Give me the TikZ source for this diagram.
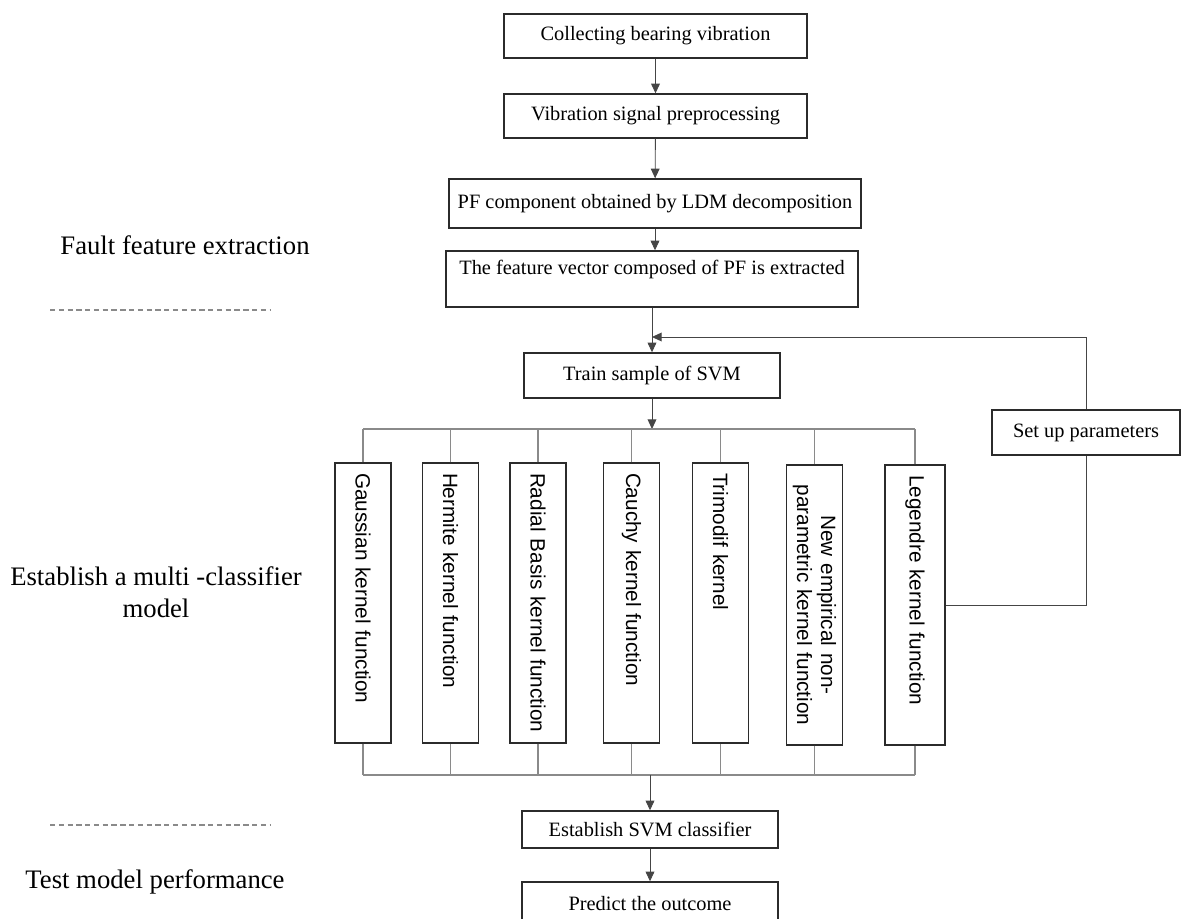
\documentclass[tikz,border=0pt]{standalone}
\usepackage{fontspec}
\setmainfont{Liberation Serif}
\newfontfamily\kernfont{Liberation Sans}
\usetikzlibrary{arrows.meta}
\definecolor{boxgray}{HTML}{2B2B2B}
\definecolor{linegray}{HTML}{454545}
\definecolor{busgray}{HTML}{8A8A8A}
\newcommand{\kernsize}{\kernfont\fontsize{11.8}{13.6}\selectfont\hyphenpenalty=10000\relax}
\tikzstyle{arr}=[-{Triangle[length=5.5pt,width=5pt]},draw=linegray,line width=0.5pt]
\tikzstyle{link}=[draw=linegray,line width=0.5pt]
\tikzstyle{bus}=[draw=busgray,line width=0.7pt]
\tikzstyle{stepS}=[draw=boxgray,line width=0.8pt,fill=white,inner sep=0pt,
  align=center,font=\fontsize{11.6}{13.9}\selectfont]
\tikzstyle{kernS}=[stepS,rotate=-90,font=\kernsize,
  minimum height=1.12cm,text width=5.2cm,inner xsep=0.2cm,align=left]
\tikzstyle{phaseL}=[font=\fontsize{15.2}{18}\selectfont,align=center]

\begin{document}
\begin{tikzpicture}[x=0.02cm,y=-0.02cm]
  \clip (0,0) rectangle (1181,919);
  % left phase labels
  \node[phaseL] (fault) at (185,245) {Fault feature extraction};
  \node[phaseL] (multi) at (156,592) {Establish a multi -classifier\\model};
  \node[phaseL] (test) at (155,882) {Test model performance};
  \draw[busgray,line width=0.7pt,dash pattern=on 3pt off 2pt] (50,310) -- (270,310);
  \draw[busgray,line width=0.7pt,dash pattern=on 3pt off 2pt] (50,825) -- (270,825);

  % main chain
  \node[stepS,minimum width=6.06cm,minimum height=0.88cm] (collect) at (655.5,36)
    {Collecting bearing vibration};
  \node[stepS,minimum width=6.06cm,minimum height=0.88cm] (prep) at (655.5,116)
    {Vibration signal preprocessing};
  \node[stepS,minimum width=8.24cm,minimum height=0.98cm] (ldm) at (655,203.5)
    {PF component obtained by LDM decomposition};
  \node[stepS,minimum width=8.24cm,minimum height=1.12cm] (feat) at (652,279)
    {The feature vector composed of PF is extracted\\[-1pt]\mbox{}};
  \node[stepS,minimum width=5.12cm,minimum height=0.9cm] (train) at (652,375.5)
    {Train sample of SVM};
  \node[stepS,minimum width=3.76cm,minimum height=0.9cm] (params) at (1086,432.5)
    {Set up parameters};
  \node[stepS,minimum width=5.12cm,minimum height=0.74cm] (estab) at (650,829.5)
    {Establish SVM classifier};
  \node[stepS,minimum width=5.12cm,minimum height=0.86cm] (predict) at (650,903.5)
    {Predict the outcome};

  % kernel functions
  \foreach \kx/\kname/\ktext in {
    363/gauss/Gaussian kernel function,
    450.5/hermite/Hermite kernel function,
    538/radial/Radial Basis kernel function,
    631.5/cauchy/Cauchy kernel function,
    720.5/trimod/Trimodif kernel}
  {
    \node[kernS] (\kname) at (\kx,603) {\ktext};
  }
  \node[kernS,align=center] (newemp) at (814.5,605)
    {New empirical non-\\parametric kernel function};
  \node[kernS,minimum height=1.2cm] (leg) at (915,605) {Legendre kernel function};

  % connectors
  \coordinate (join) at (652,337);
  \coordinate (busT) at (652,429);
  \coordinate (busB) at (650,775);
  \draw[arr] (collect) -- (prep);
  \draw[arr] (prep) -- (ldm);
  \draw[arr] (ldm.south) -- (ldm.south |- feat.north);
  \draw[arr] (feat) -- (train);
  \draw[arr] (train) -- (busT);
  \draw[bus] (gauss.west |- busT) -- (leg.west |- busT);
  \draw[bus] (gauss.east |- busB) -- (leg.east |- busB);
  \foreach \kname in {gauss,hermite,radial,cauchy,trimod,newemp,leg}
    \draw[bus] (\kname.west) -- (\kname.west |- busT)
               (\kname.east) -- (\kname.east |- busB);
  \draw[arr] (busB) -- (estab);
  \draw[arr] (estab) -- (predict);
  \draw[link] (leg.north) -| (params.south);
  \draw[arr] (params.north) |- (join);
\end{tikzpicture}
\end{document}
